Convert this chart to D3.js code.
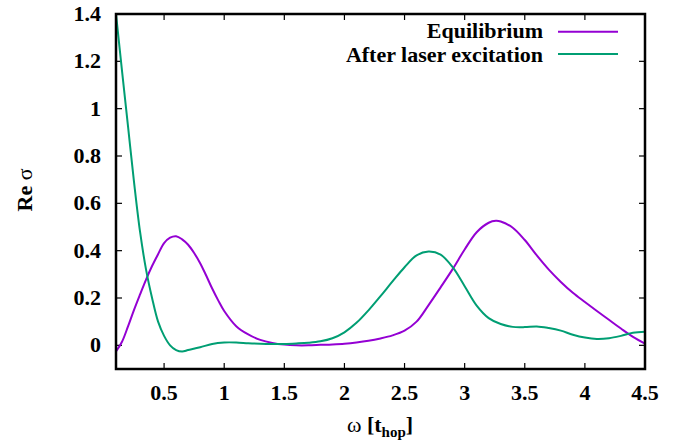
<!DOCTYPE html>
<html><head><meta charset="utf-8">
<script src="https://cdn.jsdelivr.net/npm/d3@7"></script>
</head><body style="margin:0"><svg id="c" width="690" height="445" style="font-family:'Liberation Serif','Times New Roman',serif;font-weight:bold"></svg>
<script>
const omega = [0.1,0.15,0.2,0.25,0.3,0.35,0.4,0.45,0.5,0.55,0.6,0.65,0.7,0.75,0.8,0.85,0.9,0.95,1.0,1.1,1.2,1.3,1.4,1.5,1.6,1.7,1.8,1.9,2.0,2.1,2.2,2.3,2.4,2.5,2.6,2.7,2.8,2.9,3.0,3.1,3.2,3.26,3.3,3.4,3.5,3.6,3.7,3.8,3.9,4.0,4.1,4.2,4.3,4.4,4.5];
const equilibrium = [-0.026,0.015,0.08,0.15,0.215,0.278,0.335,0.385,0.432,0.455,0.461,0.448,0.425,0.39,0.347,0.295,0.24,0.19,0.145,0.081,0.046,0.023,0.01,0.003,0.0,0.0,0.002,0.004,0.007,0.012,0.019,0.029,0.042,0.062,0.1,0.17,0.245,0.322,0.405,0.478,0.518,0.526,0.523,0.497,0.445,0.38,0.32,0.268,0.222,0.183,0.145,0.108,0.071,0.036,0.007];
const omega2 = [0.1,0.15,0.2,0.25,0.3,0.35,0.4,0.45,0.5,0.55,0.6,0.65,0.7,0.8,0.9,1.0,1.1,1.2,1.3,1.4,1.5,1.6,1.7,1.8,1.9,2.0,2.1,2.2,2.3,2.4,2.5,2.6,2.7,2.8,2.9,3.0,3.1,3.2,3.3,3.4,3.5,3.6,3.7,3.8,3.9,4.0,4.1,4.2,4.3,4.4,4.5];
const afterLaser = [1.4,1.16,0.925,0.69,0.48,0.32,0.2,0.1,0.04,0.0,-0.02,-0.026,-0.02,-0.008,0.006,0.012,0.012,0.009,0.007,0.006,0.006,0.008,0.011,0.017,0.03,0.055,0.095,0.148,0.208,0.27,0.33,0.38,0.396,0.383,0.33,0.25,0.168,0.115,0.09,0.078,0.077,0.08,0.073,0.062,0.045,0.033,0.027,0.03,0.04,0.053,0.057];
const xTicks = [0.5,1,1.5,2,2.5,3,3.5,4,4.5];
const yTicks = [0,0.2,0.4,0.6,0.8,1,1.2,1.4];
const seriesNames = ["Equilibrium","After laser excitation"];
const colors = ["#9400D3","#009E73"];

const svg = d3.select("#c");
const L=116,R=645,T=14,B=369;
const x = d3.scaleLinear().domain([0.1,4.5]).range([L,R]);
const y = d3.scaleLinear().domain([-0.1,1.4]).range([B,T]);
function txt(sel){ return sel.append("text").style("font-family",'"Liberation Serif"').style("font-weight","bold").style("font-size","22px"); }

svg.append("clipPath").attr("id","cp").append("rect").attr("x",L).attr("y",T).attr("width",R-L).attr("height",B-T);

const tl = 6;
const g = svg.append("g");
xTicks.forEach(v=>{
  g.append("line").attr("x1",x(v)).attr("x2",x(v)).attr("y1",B).attr("y2",B-tl).attr("stroke","#000").attr("stroke-width",1.2);
  g.append("line").attr("x1",x(v)).attr("x2",x(v)).attr("y1",T).attr("y2",T+tl).attr("stroke","#000").attr("stroke-width",1.2);
  txt(g).attr("x",x(v)).attr("y",400).attr("text-anchor","middle").text(d3.format("~g")(v));
});
yTicks.forEach(v=>{
  g.append("line").attr("x1",L).attr("x2",L+tl).attr("y1",y(v)).attr("y2",y(v)).attr("stroke","#000").attr("stroke-width",1.2);
  g.append("line").attr("x1",R).attr("x2",R-tl).attr("y1",y(v)).attr("y2",y(v)).attr("stroke","#000").attr("stroke-width",1.2);
  txt(g).attr("x",101).attr("y",y(v)+7).attr("text-anchor","end").text(d3.format("~g")(v));
});

const line = d3.line().x(d=>x(d[0])).y(d=>y(d[1])).curve(d3.curveCatmullRom.alpha(0.5));
const data = [d3.zip(omega,equilibrium), d3.zip(omega2,afterLaser)];
data.forEach((d,i)=>{
  svg.append("path").attr("d",line(d)).attr("fill","none").attr("stroke",colors[i]).attr("stroke-width",2).attr("clip-path","url(#cp)");
});

svg.append("rect").attr("x",L).attr("y",T).attr("width",R-L).attr("height",B-T).attr("fill","none").attr("stroke","#000").attr("stroke-width",2.5);

const ly=[38,62], lline=[31.7,54];
seriesNames.forEach((n,i)=>{
  txt(svg).attr("x",543).attr("y",ly[i]).attr("text-anchor","end").text(n);
  svg.append("line").attr("x1",558).attr("x2",618).attr("y1",lline[i]).attr("y2",lline[i]).attr("stroke",colors[i]).attr("stroke-width",2);
});

const yl = txt(svg).attr("transform","translate(32,190) rotate(-90)").attr("text-anchor","middle");
yl.append("tspan").text("Re ");
yl.append("tspan").style("font-weight","normal").text("σ");
const xl = txt(svg).attr("x",380).attr("y",432).attr("text-anchor","middle");
xl.append("tspan").style("font-weight","normal").text("ω ");
xl.append("tspan").text("[t");
xl.append("tspan").style("font-size","15px").attr("dy",5).text("hop");
xl.append("tspan").attr("dy",-5).text("]");
</script></body></html>
